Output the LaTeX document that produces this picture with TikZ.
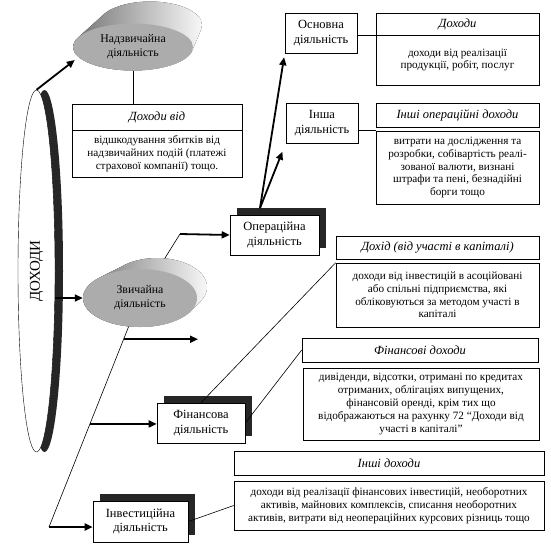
\documentclass[tikz,border=0pt]{standalone}
\usepackage{fontspec}
\setmainfont{Liberation Serif}
\usetikzlibrary{arrows.meta,shapes.geometric,shadows}
\definecolor{ovalgray}{RGB}{172,172,172}
\tikzset{
    arr/.style={line width=1.8pt,-{Triangle[length=8pt,width=7pt]}},
    lnk/.style={line width=0.6pt},
    rim/.style={left color=black!55,right color=black!3},
    act/.style={draw,fill=white,line width=0.6pt,align=center,inner sep=1pt,minimum height=40pt,font=\fontsize{12.5}{14.5}\selectfont},
    actsh/.style={act,drop shadow={shadow xshift=7pt,shadow yshift=7pt,fill=black!85,opacity=1}},
    hdr/.style={draw,fill=white,line width=0.6pt,inner sep=1pt,font=\itshape\fontsize{12.5}{14}\selectfont},
    txt/.style={draw,fill=white,line width=0.6pt,align=center,inner sep=1pt,font=\fontsize{11.2}{12.8}\selectfont},
    oval/.style={ellipse,fill=ovalgray,align=center,inner sep=0pt,font=\fontsize{11.8}{14}\selectfont}
}
\begin{document}
\begin{tikzpicture}[x=1pt,y=-1pt]
                \fill[white](0,0)rectangle(551,547);
                \useasboundingbox(0,0)rectangle(551,547);
                % ДОХОДИ
                \fill[black!85](44.5,271)ellipse[x radius=18.5,y radius=181];
                \node[draw,fill=white,ellipse,rotate=90,minimum width=362pt,minimum height=37pt,inner sep=0pt,font=\fontsize{15}{15}\selectfont](doh)at(36.5,271){ДОХОДИ};
                % надзвичайна
                \fill[rim]\foreach \k in {0,...,40}{({133+17*(1-\k/40)},{47-22*(1-\k/40)})ellipse[x radius={60-8*(1-\k/40)},y radius=23.5]};
                \node[oval,minimum width=120pt,minimum height=47pt](nadz)at(133,47){Надзвичайна\\діяльність};
                \node[hdr,minimum width=170pt,minimum height=26pt](nadh)at(157,117){Доходи від};
                \node[txt,minimum width=170pt,minimum height=47pt](nadb)at(157,153.5){відшкодування збитків від\\надзвичайних подій (платежі\\страхової компанії) тощо.};
                \draw[lnk](nadz.south)--(nadz.south|-nadh.north);
                \draw[arr](doh.east)--([shift={(2,13)}]nadz.west);
                % звичайна
                \coordinate(st)at(180,234);
                \coordinate(zc)at(140,298);
                \coordinate(iv)at(49,527);
                \coordinate(fr)at(198,339);
                \draw[lnk](st)--(zc)--(iv);
                \path(zc)--(iv)coordinate[pos=0.18](b1)coordinate[pos=0.55](b2);
                \fill[rim]\foreach \k in {0,...,24}{({140+17*(1-\k/24)},{298-11*(1-\k/24)})ellipse[x radius={57-7*(1-\k/24)},y radius=29]};
                \node[oval,minimum width=114pt,minimum height=58pt](zvych)at(zc){Звичайна\\діяльність};
                \draw[arr](doh.south|-zvych.west)--(zvych.west);
                % види діяльності
                \node[act,minimum width=72pt](osn)at(321,33){Основна\\діяльність};
                \node[act,minimum width=72pt](insha)at(322,123){Інша\\діяльність};
                \node[actsh,minimum width=89pt](opr)at(274.5,235){Операційна\\діяльність};
                \node[actsh,minimum width=88pt](fin)at(201,423){Фінансова\\діяльність};
                \node[actsh,minimum width=95pt,minimum height=41pt](inv)at(140.5,521.5){Інвестиційна\\діяльність};
                \draw[arr](st)--(opr.west);
                \draw[arr](b1)--(b1-|fr);
                \draw[arr](b2)--(b2-|fin.west);
                \draw[arr](iv)--(iv-|inv.west);
                \coordinate(os)at(260,208);
                \draw[arr,shorten >=4pt](os)--(osn.south west);
                \draw[arr,shorten >=9pt](os)--(insha.south west);
                % доходи
                \node[hdr,minimum width=163pt,minimum height=22pt](osnh)at(457.5,24){Доходи};
                \node[txt,minimum width=163pt,minimum height=50pt](osnb)at(457.5,60){доходи від реалізації\\продукції, робіт, послуг};
                \node[hdr,minimum width=163pt,minimum height=24pt](inshh)at(457.5,115){Інші операційні доходи};
                \node[txt,minimum width=163pt,minimum height=73pt](inshb)at(457.5,167.5){витрати на дослідження та\\розробки, собівартість реалі-\\зованої валюти, визнані\\штрафи та пені, безнадійні\\борги тощо};
                \node[hdr,minimum width=203pt,minimum height=23pt](uchh)at(437.5,247.5){Дохід (від участі в капіталі)};
                \node[txt,minimum width=203pt,minimum height=64pt](uchb)at(437.5,295){доходи від інвестицій в асоційовані\\або спільні підприємства, які\\обліковуються за методом участі в\\капіталі};
                \node[hdr,minimum width=236pt,minimum height=24pt](finh)at(420,350){Фінансові доходи};
                \node[txt,minimum width=236pt,minimum height=72pt](finb)at(421,404){дивіденди, відсотки, отримані по кредитах\\отриманих, облігаціях випущених,\\фінансовій оренді, крім тих що\\відображаються на рахунку 72 “Доходи від\\участі в капіталі”};
                \node[hdr,minimum width=310pt,minimum height=24pt](invh)at(389,463){Інші доходи};
                \node[txt,minimum width=310pt,minimum height=49pt](invb)at(389,505.5){доходи від реалізації фінансових інвестицій, необоротних\\активів, майнових комплексів, списання необоротних\\активів, витрати від неопераційних курсових різниць тощо};
                \draw[lnk](osn.east|-osnh.south west)--(osnh.south west);
                \draw[lnk](insha.east|-inshb.north west)--(inshb.north west);
                \draw[lnk](fin.north)--(uchb.north west);
                \draw[lnk](fin.east)--(finh.west);
                \draw[lnk](inv.east)--(invb.west);
            \end{tikzpicture}
\end{document}
